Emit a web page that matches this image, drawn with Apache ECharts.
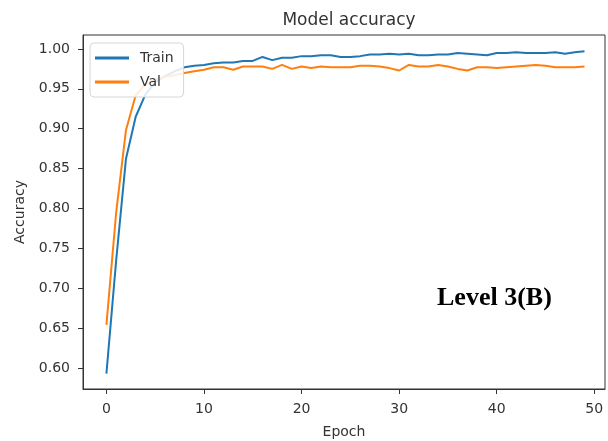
<!DOCTYPE html>
<html>
<head>
<meta charset="utf-8">
<script src="https://cdn.jsdelivr.net/npm/echarts@6/dist/echarts.min.js"></script>
<style>
html,body{margin:0;padding:0;background:#fff;}
#c{width:608px;height:441px;}
</style>
</head>
<body>
<div id="c"></div>
<script>
const epochs = Array.from({length: 50}, (_, i) => i);
const trainAcc = [0.593,0.735,0.862,0.915,0.943,0.958,0.966,0.972,0.977,0.979,
  0.980,0.982,0.983,0.983,0.985,0.985,0.990,0.986,0.989,0.989,
  0.991,0.991,0.992,0.992,0.990,0.990,0.991,0.993,0.993,0.994,
  0.993,0.994,0.992,0.992,0.993,0.993,0.995,0.994,0.993,0.992,
  0.995,0.995,0.996,0.995,0.995,0.995,0.996,0.994,0.996,0.997];
const valAcc = [0.654,0.795,0.898,0.942,0.956,0.962,0.965,0.967,0.970,0.972,
  0.974,0.977,0.977,0.974,0.978,0.978,0.978,0.975,0.980,0.975,
  0.978,0.976,0.978,0.977,0.977,0.977,0.979,0.979,0.978,0.976,
  0.973,0.980,0.978,0.978,0.980,0.978,0.975,0.973,0.977,0.977,
  0.976,0.977,0.978,0.979,0.980,0.979,0.977,0.977,0.977,0.978];
const xTicks = [0,10,20,30,40,50];
const yTicks = [0.60,0.65,0.70,0.75,0.80,0.85,0.90,0.95,1.00];
const seriesNames = ['Train','Val'];
const colors = ['#1f77b4','#ff7f0e'];

const chart = echarts.init(document.getElementById('c'), null, {renderer:'canvas'});
const font = 'DejaVu Sans';
const txt = '#333333';
chart.setOption({
  animation:false,
  backgroundColor:'#fff',
  title:{text:'Model accuracy', left:344, top:7, textAlign:'center',
    textStyle:{fontFamily:font, fontSize:17, fontWeight:'normal', color:txt}},
  grid:{left:83, right:3, top:35, bottom:52, outerBoundsMode:'none', containLabel:false,
    show:true, borderColor:'#333', borderWidth:1, backgroundColor:'transparent'},
  legend:{
    orient:'vertical', left:90, top:43, data:seriesNames,
    icon:'rect', itemWidth:34, itemHeight:3, itemGap:8,
    padding:[7,10,7,5],
    backgroundColor:'rgba(255,255,255,0.85)', borderColor:'#d6d6d6', borderWidth:1, borderRadius:4,
    textStyle:{fontFamily:font, fontSize:14, color:txt, lineHeight:16, padding:[0,0,0,6]}
  },
  xAxis:{
    type:'value', min:-2.4, max:51.1,
    name:'Epoch', nameLocation:'middle', nameGap:36,
    nameTextStyle:{fontFamily:font, fontSize:14, color:txt},
    splitLine:{show:false},
    axisLine:{show:true, onZero:false, lineStyle:{color:'#333', width:1}},
    axisTick:{show:true, length:5, lineStyle:{color:'#333'}, customValues:xTicks},
    axisLabel:{fontFamily:font, fontSize:14, color:txt, margin:13, customValues:xTicks,
      formatter:v=>String(Math.round(v))}
  },
  yAxis:{
    type:'value', min:0.5737, max:1.0175,
    name:'Accuracy', nameLocation:'middle', nameGap:56, nameRotate:90,
    nameTextStyle:{fontFamily:font, fontSize:14, color:txt},
    splitLine:{show:false},
    axisLine:{show:true, onZero:false, lineStyle:{color:'#333', width:1}},
    axisTick:{show:true, length:5, lineStyle:{color:'#333'}, customValues:yTicks},
    axisLabel:{fontFamily:font, fontSize:14, color:txt, margin:13, customValues:yTicks,
      formatter:v=>v.toFixed(2)}
  },
  series:[
    {name:seriesNames[0], type:'line', data:epochs.map((e,i)=>[e,trainAcc[i]]), showSymbol:false, symbol:'none',
      lineStyle:{color:colors[0], width:2}, itemStyle:{color:colors[0]}, z:2},
    {name:seriesNames[1], type:'line', data:epochs.map((e,i)=>[e,valAcc[i]]), showSymbol:false, symbol:'none',
      lineStyle:{color:colors[1], width:2}, itemStyle:{color:colors[1]}, z:3}
  ],
  graphic:[{type:'text', left:437, top:285, z:10,
    style:{text:'Level 3(B)', font:'bold 26px "Liberation Serif", "Times New Roman", serif', fill:'#000'}}]
});
</script>
</body>
</html>
